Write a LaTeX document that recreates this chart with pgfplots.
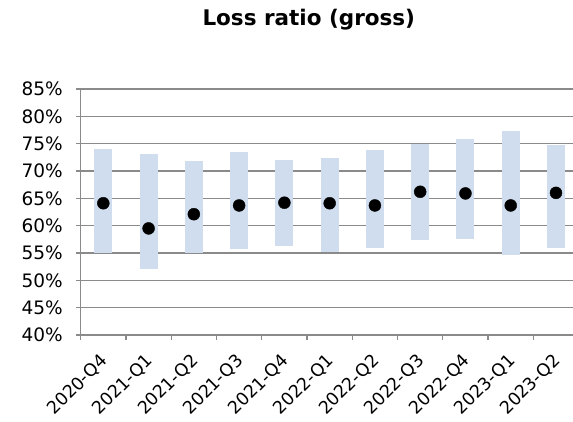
\documentclass[border=0pt]{standalone}
\usepackage{fontspec}
\setmainfont{DejaVu Sans}
\usepackage{pgfplots}
\pgfplotsset{compat=1.18}
\usepackage{pgfplotstable}
\definecolor{barblue}{RGB}{207,221,238}
\definecolor{gridgray}{RGB}{138,138,138}

\pgfplotstableread{
x bottom top dot
0 55.0 74.0 64.1
1 52.1 73.2 59.5
2 55.0 71.8 62.1
3 55.8 73.4 63.7
4 56.3 72.0 64.2
5 55.1 72.4 64.1
6 56.0 73.8 63.7
7 57.4 74.9 66.2
8 57.6 75.9 65.9
9 54.6 77.4 63.7
10 56.0 74.8 66.0
}\lossdata

\begin{document}
\begin{tikzpicture}
\begin{axis}[
  scale only axis,
  width=492.3pt, height=246pt,
  xmin=-0.5, xmax=10.376,
  ymin=40, ymax=85,
  axis lines*=left,
  axis line style={gridgray, line width=1.2pt},
  ytick={40,45,...,85},
  yticklabel={\pgfmathparse{int(\tick)}\pgfmathresult\%},
  ymajorgrids,
  grid style={gridgray, line width=1.2pt},
  xtick={0,1,...,10},
  xticklabels={2020-Q4,2021-Q1,2021-Q2,2021-Q3,2021-Q4,2022-Q1,2022-Q2,2022-Q3,2022-Q4,2023-Q1,2023-Q2},
  major x tick style={draw=none},
  minor xtick={-0.5,0.5,...,9.5},
  tick align=outside,
  major tick length=4.5pt,
  minor tick length=5pt,
  tick style={gridgray, line width=1.2pt},
  yticklabel style={font=\fontsize{18.5}{20}\selectfont, xshift=-10pt},
  xticklabel style={font=\fontsize{17.5}{19}\selectfont, xshift=-4pt, yshift=-8pt, rotate=45, anchor=north east},
  /pgf/number format/assume math mode=true,
]
\addplot[draw=none, mark=none,
  error bars/.cd, y dir=both, y explicit,
  error mark=none,
  error bar style={line width=18pt, barblue}]
  table[x=x, y=dot,
    y error plus expr=\thisrow{top}-\thisrow{dot},
    y error minus expr=\thisrow{dot}-\thisrow{bottom}] {\lossdata};
\addplot[only marks, mark=*, mark size=6pt, black] table[x=x, y=dot] {\lossdata};
\end{axis}
\node[font=\bfseries\fontsize{21.5}{22}\selectfont, anchor=base] at (228.1pt,309pt) {Loss ratio (gross)};
\pgfresetboundingbox
\path (-80.7pt,-86pt) rectangle (492.3pt,335pt);
\end{tikzpicture}
\end{document}
